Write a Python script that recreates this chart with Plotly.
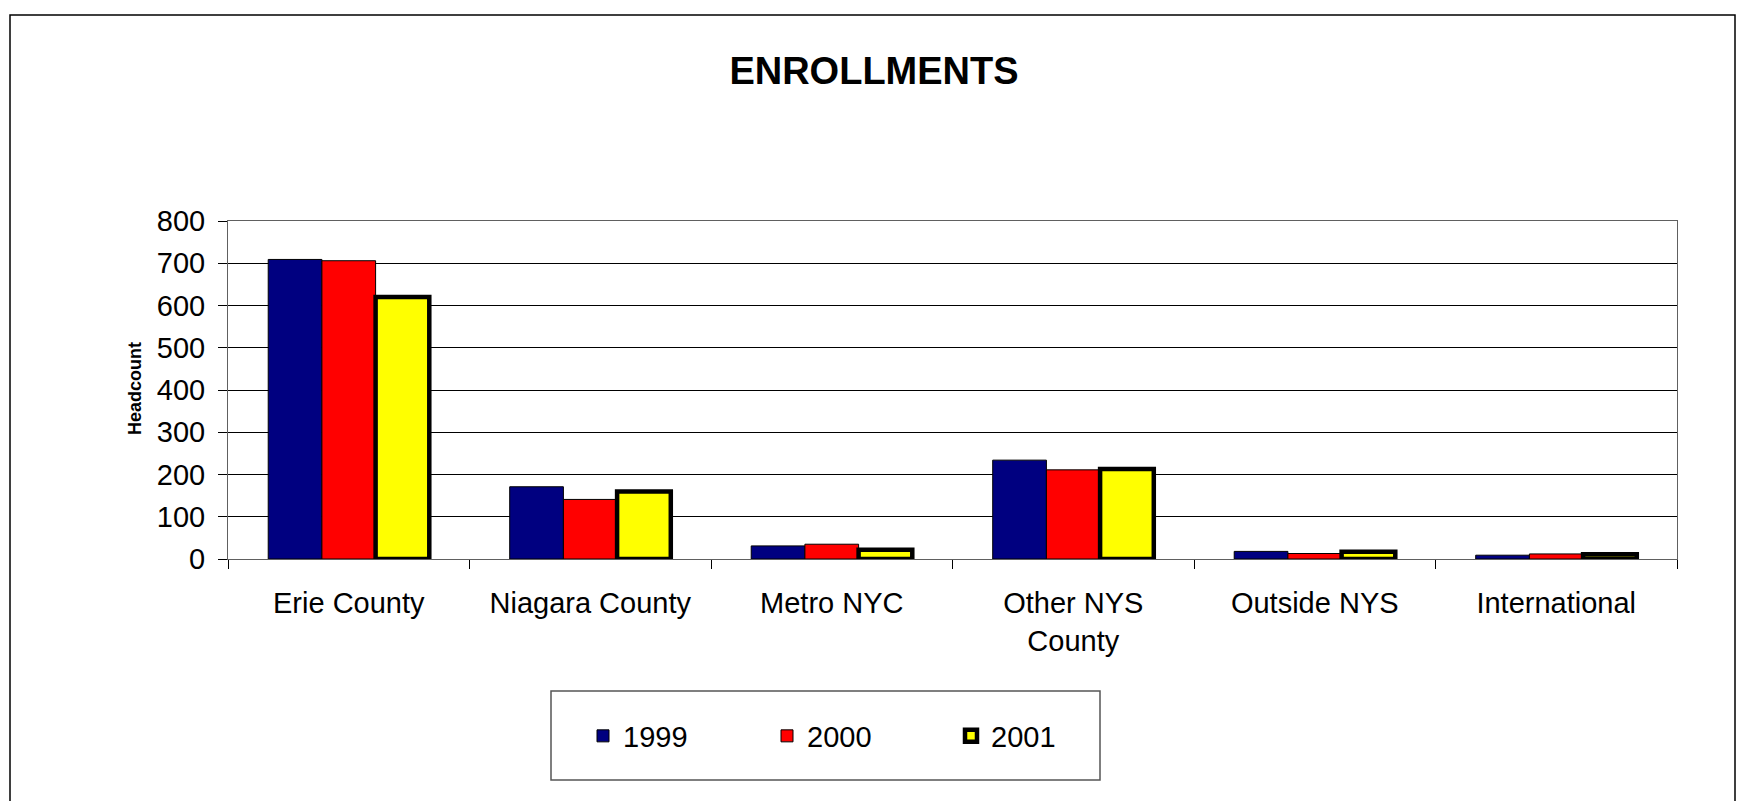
import plotly.graph_objects as go

categories = ["Erie County", "Niagara County", "Metro NYC", "Other NYS<br>County", "Outside NYS", "International"]
series_names = ["1999", "2000", "2001"]
values_1999 = [709, 171, 31, 234, 18, 9]
values_2000 = [706, 141, 35, 211, 13, 12]
values_2001 = [620, 160, 22, 213, 17, 11]
y_ticks = [0, 100, 200, 300, 400, 500, 600, 700, 800]

W, H = 1743, 801
L, R, T, B = 228, 1677, 221, 559
FONT = "Arial, Liberation Sans, sans-serif"


def px_x(x):
    return (x - L) / (R - L)


def px_y(y):
    return (B - y) / (B - T)


fig = go.Figure()
fig.add_trace(go.Bar(name=series_names[0], x=categories, y=values_1999,
                     marker=dict(color="#000080", line=dict(color="black", width=1))))
fig.add_trace(go.Bar(name=series_names[1], x=categories, y=values_2000,
                     marker=dict(color="#FF0000", line=dict(color="black", width=1))))
fig.add_trace(go.Bar(name=series_names[2], x=categories, y=values_2001,
                     marker=dict(color="#FFFF00", line=dict(color="black", width=4.5))))

fig.update_layout(
    width=W, height=H,
    margin=dict(l=L, r=W - R, t=T, b=H - B, pad=0),
    paper_bgcolor="white", plot_bgcolor="white",
    barmode="group", bargap=0.333, bargroupgap=0,
    font=dict(family=FONT, size=29, color="black"),
    title=dict(text="<b>ENROLLMENTS</b>", x=874 / W, y=1 - 71 / H, xref="container", yref="container",
               xanchor="center", yanchor="middle", font=dict(family=FONT, size=38, color="black")),
    showlegend=True,
    legend=dict(orientation="h", x=px_x(859), y=px_y(736), xanchor="center", yanchor="middle",
                xref="paper", yref="paper", bgcolor="rgba(0,0,0,0)", borderwidth=0,
                font=dict(family=FONT, size=29, color="black"),
                entrywidth=139, entrywidthmode="pixels", traceorder="normal"),
    hovermode=False,
)

fig.update_xaxes(
    type="category", automargin=False, showline=True, linecolor="#606060", linewidth=1, mirror=True,
    ticks="outside", ticklen=9, tickcolor="black", tickson="boundaries", showgrid=False,
    tickfont=dict(family=FONT, size=29, color="black"), ticklabelstandoff=18,
)
fig.update_yaxes(
    range=[0, 800], tickvals=y_ticks, automargin=False, showline=True, linecolor="#606060", linewidth=1,
    mirror=True, ticks="outside", ticklen=9, tickcolor="black", showgrid=True, gridcolor="black",
    gridwidth=1, zeroline=True, zerolinecolor="black", zerolinewidth=1,
    tickfont=dict(family=FONT, size=29, color="black"), ticklabelstandoff=7,
)

fig.add_annotation(text="<b>Headcount</b>", x=px_x(135), y=px_y(389), xref="paper", yref="paper",
                   textangle=-90, showarrow=False, xanchor="center", yanchor="middle",
                   font=dict(family=FONT, size=18, color="black"))

# legend box
fig.add_shape(type="rect", xref="paper", yref="paper", x0=px_x(551), x1=px_x(1100), y0=px_y(780), y1=px_y(691),
              line=dict(color="#555555", width=1.5), fillcolor="rgba(0,0,0,0)", layer="above")
# outer chart border
fig.add_shape(type="rect", xref="paper", yref="paper", x0=px_x(10), x1=px_x(1735), y0=px_y(830), y1=px_y(15),
              line=dict(color="black", width=1.5), fillcolor="rgba(0,0,0,0)", layer="above")

fig.write_html("out.html", config={"displayModeBar": False},
               post_script="document.body.style.margin='0';document.body.style.overflow='hidden';")
